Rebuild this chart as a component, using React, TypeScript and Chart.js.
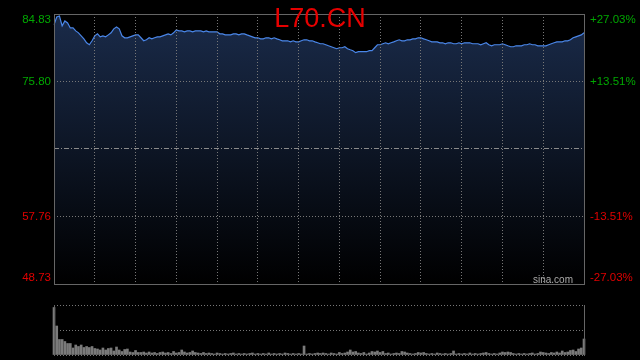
import React, { useEffect, useRef } from 'react';
import { Chart, registerables } from 'chart.js';

Chart.register(...registerables);

const title = 'L70.CN';
const watermark = 'sina.com';
const priceTicks = [48.73, 57.76, 66.78, 75.8, 84.83];
const priceLabels = ['48.73', '57.76', '', '75.80', '84.83'];
const pctLabels = ['-27.03%', '-13.51%', '', '+13.51%', '+27.03%'];
const prevClose = 66.78;
const volumeTicks = [0, 50, 100];

const prices = [
  83.37, 84.43, 84.56, 83.24, 83.9, 83.64, 82.97, 82.97, 82.57, 82.31,
  81.91, 81.51, 80.98, 80.72, 81.25, 81.91, 82.18, 81.78, 81.91, 81.78,
  82.04, 82.31, 82.84, 83.1, 82.84, 81.91, 81.65, 81.65, 81.78, 81.91,
  82.04, 82.04, 81.65, 81.25, 81.38, 81.65, 81.51, 81.65, 81.78, 81.78,
  81.91, 82.04, 82.18, 82.04, 82.31, 82.71, 82.57, 82.57, 82.44, 82.57,
  82.57, 82.44, 82.57, 82.57, 82.57, 82.44, 82.57, 82.44, 82.44, 82.44,
  82.44, 82.18, 82.18, 82.04, 82.04, 82.04, 82.18, 82.18, 82.04, 82.18,
  82.18, 82.04, 81.91, 81.78, 81.65, 81.65, 81.51, 81.51, 81.65, 81.65,
  81.51, 81.65, 81.51, 81.38, 81.25, 81.25, 81.25, 81.11, 81.25, 81.11,
  81.11, 81.25, 81.38, 81.38, 81.25, 81.25, 81.11, 80.98, 80.85, 80.85,
  80.72, 80.58, 80.45, 80.32, 80.19, 80.32, 80.32, 80.45, 80.19, 80.05,
  79.92, 79.66, 79.79, 79.79, 79.79, 79.79, 79.92, 79.92, 80.32, 80.72,
  80.72, 80.85, 80.98, 80.85, 80.98, 81.11, 81.25, 81.38, 81.25, 81.25,
  81.38, 81.38, 81.51, 81.51, 81.65, 81.65, 81.51, 81.38, 81.25, 81.11,
  81.11, 81.11, 80.98, 80.98, 80.85, 80.98, 80.98, 80.85, 80.85, 80.98,
  80.85, 80.98, 80.98, 80.98, 80.85, 80.85, 80.85, 80.72, 80.85, 80.98,
  80.72, 80.58, 80.72, 80.72, 80.72, 80.85, 80.72, 80.58, 80.45, 80.45,
  80.58, 80.58, 80.58, 80.72, 80.72, 80.85, 80.72, 80.72, 80.58, 80.58,
  80.58, 80.58, 80.72, 80.85, 80.98, 81.11, 81.11, 81.11, 81.25, 81.25,
  81.38, 81.65, 81.78, 81.91, 82.04, 82.31,
];

const volumes = [
  95, 58, 31, 31, 27, 23, 23, 14, 20, 17,
  20, 15, 17, 15, 17, 13, 12, 10, 14, 10,
  13, 14, 8, 16, 10, 7, 11, 12, 6, 5,
  9, 5, 5, 6, 4, 6, 4, 5, 3, 5,
  6, 4, 5, 3, 7, 4, 5, 10, 6, 4,
  5, 8, 5, 4, 3, 5, 3, 4, 3, 2,
  4, 3, 2, 3, 2, 3, 4, 2, 3, 2,
  3, 2, 3, 4, 2, 3, 2, 3, 2, 4,
  2, 3, 2, 3, 2, 4, 3, 2, 3, 2,
  3, 2, 18, 2, 3, 2, 3, 4, 3, 4,
  3, 2, 4, 3, 2, 5, 3, 4, 6, 10,
  6, 7, 4, 3, 5, 2, 4, 7, 6, 8,
  5, 7, 3, 4, 2, 3, 4, 3, 7, 6,
  4, 3, 2, 3, 5, 4, 5, 3, 2, 3,
  2, 4, 3, 2, 3, 2, 3, 8, 2, 3,
  2, 3, 2, 4, 2, 3, 2, 3, 4, 5,
  3, 2, 3, 2, 4, 6, 5, 6, 5, 3,
  2, 3, 2, 3, 2, 3, 4, 2, 3, 6,
  5, 4, 3, 5, 4, 6, 4, 8, 5, 6,
  9, 10, 7, 12, 14, 32,
];

const times = prices.map((_, i) => {
  const m = 570 + 2 * i;
  return `${Math.floor(m / 60)}:${String(m % 60).padStart(2, '0')}`;
});

const FONT = '"Liberation Sans", Arial, sans-serif';
const GREEN = '#00a800';
const RED = '#e00000';
const GRID = '#777777';
const BORDER = '#666666';

export default function App() {
  const mainRef = useRef<HTMLCanvasElement>(null);
  const volRef = useRef<HTMLCanvasElement>(null);

  useEffect(() => {
    const overlay = {
      id: 'overlay',
      afterDraw(chart: any) {
        const { ctx, chartArea: a } = chart;
        const ys = chart.scales.y;
        ctx.save();
        ctx.strokeStyle = BORDER;
        ctx.lineWidth = 1;
        ctx.setLineDash([]);
        ctx.strokeRect(a.left + 0.5, a.top + 0.5, a.right - a.left, a.bottom - a.top);

        ctx.font = `11.5px ${FONT}`;
        ctx.textBaseline = 'middle';
        priceTicks.forEach((v, i) => {
          if (!priceLabels[i]) return;
          let py = ys.getPixelForValue(v);
          py = Math.min(Math.max(py, a.top + 6), a.bottom - 6);
          ctx.fillStyle = v > prevClose ? GREEN : RED;
          ctx.textAlign = 'right';
          ctx.fillText(priceLabels[i], a.left - 3, py);
          ctx.textAlign = 'left';
          ctx.fillText(pctLabels[i], a.right + 6, py);
        });

        ctx.font = `10px ${FONT}`;
        ctx.fillStyle = '#aaaaaa';
        ctx.textAlign = 'right';
        ctx.textBaseline = 'alphabetic';
        ctx.fillText(watermark, a.right - 11, a.bottom - 1);

        ctx.font = `27px ${FONT}`;
        ctx.fillStyle = '#e60000';
        ctx.textAlign = 'center';
        ctx.fillText(title, 320, 27);
        ctx.restore();
      },
    };

    const main = new Chart(mainRef.current!, {
      type: 'line',
      data: {
        labels: times,
        datasets: [
          {
            data: prices,
            borderColor: '#4a86e8',
            borderWidth: 1.2,
            pointRadius: 0,
            tension: 0,
            fill: 'start',
            backgroundColor: (c: any) => {
              const { ctx, chartArea } = c.chart;
              if (!chartArea) return 'rgba(20,34,60,1)';
              const g = ctx.createLinearGradient(0, chartArea.top, 0, chartArea.bottom);
              g.addColorStop(0, 'rgb(26,43,74)');
              g.addColorStop(1, 'rgb(0,0,0)');
              return g;
            },
          },
        ],
      },
      options: {
        animation: false,
        responsive: false,
        maintainAspectRatio: false,
        devicePixelRatio: 1,
        layout: { padding: { top: 14, bottom: 6, left: 0, right: 0 } },
        plugins: { legend: { display: false }, tooltip: { enabled: false }, title: { display: false } },
        scales: {
          x: {
            type: 'category',
            offset: false,
            ticks: { display: false, autoSkip: false },
            grid: {
              z: 1,
              drawTicks: false,
              color: (c: any) => (c.index % 15 === 0 && c.index !== 0 && c.index !== times.length - 1 ? GRID : 'transparent'),
            },
            border: { display: false, dash: [1, 2] },
            afterFit: (s: any) => { s.height = 0; },
          },
          y: {
            position: 'left',
            min: priceTicks[0],
            max: priceTicks[priceTicks.length - 1],
            afterBuildTicks: (s: any) => { s.ticks = priceTicks.map((v) => ({ value: v })); },
            ticks: { display: false },
            grid: {
              z: 1,
              drawTicks: false,
              color: (c: any) => (c.index === 0 || c.index === priceTicks.length - 1 ? 'transparent' : c.index === 2 ? '#8a8a8a' : GRID),
            },
            border: { display: false, dash: (c: any) => (c.index === 2 ? [5, 2, 1, 2] : [1, 2]) },
            afterFit: (s: any) => { s.width = 54; },
          },
          y1: {
            position: 'right',
            min: priceTicks[0],
            max: priceTicks[priceTicks.length - 1],
            ticks: { display: false },
            grid: { display: false },
            border: { display: false },
            afterFit: (s: any) => { s.width = 56; },
          },
        },
      },
      plugins: [overlay],
    } as any);

    const volBorders = {
      id: 'volBorders',
      afterDraw(chart: any) {
        const { ctx, chartArea: a } = chart;
        ctx.save();
        ctx.strokeStyle = BORDER;
        ctx.lineWidth = 1;
        ctx.setLineDash([]);
        ctx.beginPath();
        ctx.moveTo(a.left + 0.5, a.top);
        ctx.lineTo(a.left + 0.5, a.bottom + 1);
        ctx.moveTo(a.right + 0.5, a.top);
        ctx.lineTo(a.right + 0.5, a.bottom + 1);
        ctx.stroke();
        ctx.restore();
      },
    };

    const vol = new Chart(volRef.current!, {
      type: 'bar',
      data: {
        labels: times,
        datasets: [{ data: volumes, backgroundColor: '#7a7a7a', barThickness: 2, borderWidth: 0, clip: false }],
      },
      options: {
        animation: false,
        responsive: false,
        maintainAspectRatio: false,
        devicePixelRatio: 1,
        layout: { padding: { top: 15, bottom: 5, left: 0, right: 0 } },
        plugins: { legend: { display: false }, tooltip: { enabled: false } },
        scales: {
          x: {
            type: 'category',
            offset: false,
            ticks: { display: false },
            grid: { display: false },
            border: { display: false },
            afterFit: (s: any) => { s.height = 0; },
          },
          y: {
            position: 'left',
            min: 0,
            max: 100,
            afterBuildTicks: (s: any) => { s.ticks = volumeTicks.map((v) => ({ value: v })); },
            ticks: { display: false },
            grid: { drawTicks: false, color: GRID },
            border: { display: false, dash: [1, 2] },
            afterFit: (s: any) => { s.width = 54; },
          },
          y1: {
            position: 'right',
            min: 0,
            max: 100,
            ticks: { display: false },
            grid: { display: false },
            border: { display: false },
            afterFit: (s: any) => { s.width = 56; },
          },
        },
      },
      plugins: [volBorders],
    } as any);

    return () => {
      main.destroy();
      vol.destroy();
    };
  }, []);

  return (
    <div style={{ position: 'fixed', left: 0, top: 0, width: 640, height: 360, background: '#000', overflow: 'hidden' }}>
      <canvas ref={mainRef} width={640} height={290} style={{ position: 'absolute', left: 0, top: 0, width: 640, height: 290 }} />
      <canvas ref={volRef} width={640} height={70} style={{ position: 'absolute', left: 0, top: 290, width: 640, height: 70 }} />
    </div>
  );
}
